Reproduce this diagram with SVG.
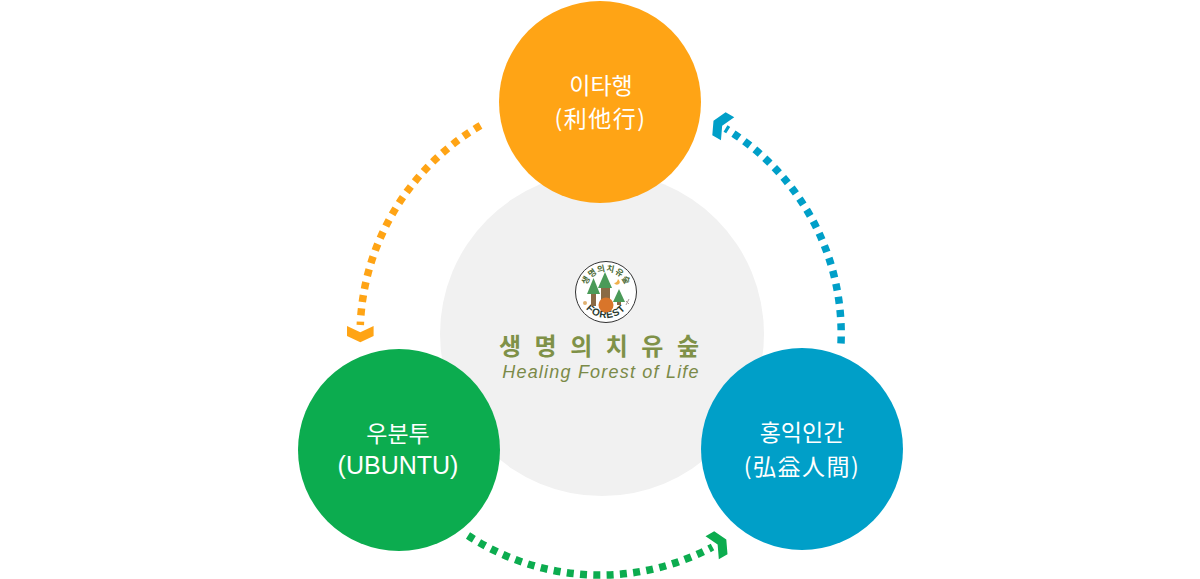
<svg xmlns="http://www.w3.org/2000/svg" width="1200" height="579" viewBox="0 0 1200 579">
<style>
.lbl{font-family:"Noto Sans CJK KR","Noto Sans",sans-serif;font-size:23px;fill:#fff;text-anchor:middle}
.han{letter-spacing:1.500px}
.lat{font-family:"Liberation Sans",sans-serif;font-size:25px}
.arc{fill:none;stroke-width:7.500;stroke-dasharray:7 6.300}
.leaf{fill:#4a9a58}
.trunk{fill:#8a6a45}
</style>
<defs>
<polygon id="chev" points="0,0 13.300,-6.300 13.300,-16.300 0,-10 -13.300,-16.300 -13.300,-6.300"/>
<path id="logoTop" d="M585.500 292a20.500 20.500 0 0 1 41 0"/>
<path id="logoBottom" d="M580 292a26 26 0 0 0 52 0"/>
</defs>
<rect width="1200" height="579" fill="#fff"/>
<g id="center">
<circle cx="602" cy="334" r="162" fill="#f1f1f1"/>
<g id="logo">
<circle cx="606" cy="292" r="30.500" fill="#fff" stroke="#333" stroke-width="1"/>
<text font-family="'Noto Sans CJK KR',sans-serif" font-size="8.500" font-weight="700" fill="#4d6b35" letter-spacing="0.600"><textPath href="#logoTop" startOffset="50%" text-anchor="middle">생명의치유숲</textPath></text>
<text font-family="'Liberation Sans',sans-serif" font-size="10" font-weight="700" fill="#2a3a30" letter-spacing="0.800"><textPath href="#logoBottom" startOffset="50%" text-anchor="middle">FOREST</textPath></text>
<rect class="trunk" x="591" y="290" width="5" height="16"/>
<polygon class="leaf" points="593.500,278 587,294 600,294"/>
<rect class="trunk" x="601" y="283" width="9" height="20"/>
<polygon class="leaf" points="605,272 598,288 612,288"/>
<rect class="trunk" x="617" y="299" width="4" height="6"/>
<polygon class="leaf" points="619,289 613,302 625,302"/>
<circle cx="606" cy="305" r="7.500" fill="#d9752a"/>
<circle cx="585" cy="303" r="2" fill="#e0b070"/>
<path d="M626 301l3 3m0-5l-3 6" stroke="#a99" stroke-width="1" fill="none"/>
<path d="M618 279q3 3 1 5q-3 2-5-1q3 0 4-4z" fill="#f0b04a"/>
</g>
<text x="499" y="355" font-family="'Noto Sans CJK KR',sans-serif" font-size="24" font-weight="700" fill="#7f9148" letter-spacing="13.500">생명의치유숲</text>
<text x="601" y="378" text-anchor="middle" font-family="'Liberation Sans',sans-serif" font-size="18" font-style="italic" fill="#7b8a48" letter-spacing="1.200">Healing Forest of Life</text>
</g>
<g id="connectors">
<path class="arc" stroke="#ffa415" d="M480.500 125.500A242 242 0 0 0 360.300 325"/>
<use href="#chev" fill="#ffa415" transform="translate(360.300 342.300)"/>
<path class="arc" stroke="#009fc8" d="M841 343.500A240 240 0 0 0 725.500 128.500"/>
<use href="#chev" fill="#009fc8" transform="translate(713.500 120.700) rotate(120)"/>
<path class="arc" stroke="#0cac4f" d="M468 535.500A240 240 0 0 0 712.500 547"/>
<use href="#chev" fill="#0cac4f" transform="translate(726.300 539.500) rotate(-120)"/>
</g>
<g id="node-top">
<circle cx="600" cy="102" r="101" fill="#ffa415"/>
<text class="lbl" x="601" y="94">이타행</text>
<text class="lbl han" x="600.500" y="127">(利他行)</text>
</g>
<g id="node-left">
<circle cx="399" cy="450" r="101" fill="#0cac4f"/>
<text class="lbl" x="398" y="442">우분투</text>
<text class="lbl lat" x="398" y="474">(UBUNTU)</text>
</g>
<g id="node-right">
<circle cx="802" cy="449" r="101" fill="#009fc8"/>
<text class="lbl" x="802" y="441">홍익인간</text>
<text class="lbl han" x="802" y="475">(弘益人間)</text>
</g>
</svg>
